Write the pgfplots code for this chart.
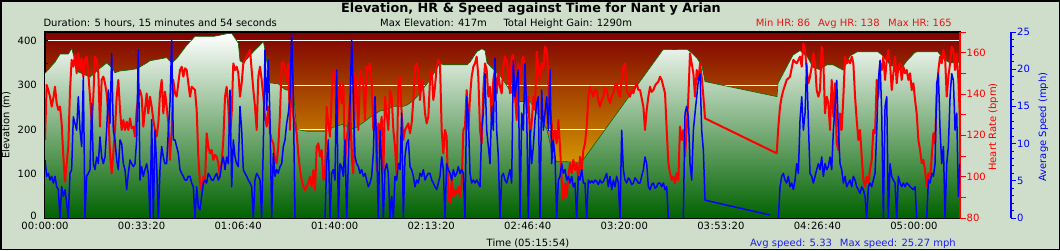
\documentclass[border=0pt]{standalone}
\usepackage{fontspec}
\setmainfont{DejaVu Sans}
\usepackage{pgfplots}
\usepackage{pgfplotstable}
\pgfplotsset{compat=1.18}
\definecolor{pagebg}{RGB}{206,222,203}
\definecolor{bgtop}{RGB}{128,0,0}
\definecolor{bgmid}{RGB}{182,74,0}
\definecolor{bgbot}{RGB}{245,212,0}
\definecolor{elevbot}{RGB}{0,98,0}
\definecolor{elevline}{RGB}{0,105,0}
\definecolor{hrred}{RGB}{255,0,0}
\definecolor{spblue}{RGB}{0,0,255}
\definecolor{txtred}{RGB}{235,20,20}
\definecolor{txtblue}{RGB}{30,30,235}
\newcommand\tf{\fontsize{10}{12}\selectfont}
\newcommand\cl{\makebox[0.45em]{:}}
\pgfplotsset{
  every axis/.append style={/pgf/number format/assume math mode=true, scaled x ticks=false, scaled y ticks=false},
  base/.style={at={(45pt,32pt)}, anchor=south west, width=915pt, height=186pt, scale only axis, xmin=0, xmax=18954},
}
\pgfplotstableread{
t e
0 327
68 335
207 352
311 370
483 370
553 383
621 355
690 330
932 318
1104 335
1278 350
1382 340
1450 328
1554 332
1726 334
1900 337
2107 350
2175 355
2521 362
2625 350
2728 360
2935 390
3107 410
3486 410
3590 412
3764 416
3868 417
4004 395
4039 355
4108 350
4315 375
4522 398
4557 380
4661 305
4833 303
4972 290
5144 285
5214 200
5421 196
5800 196
5972 205
6179 212
6318 200
6450 205
6587 215
6753 229
6940 242
7050 243
7209 252
7416 252
7500 255
7602 263
7706 274
7975 312
8182 350
8245 346
8742 346
8804 352
8949 376
9052 382
9115 378
9156 350
9450 318
9650 285
9777 265
9840 263
10047 263
10192 237
10399 199
10523 139
10606 127
10813 127
11083 126
11145 131
12802 380
13299 381
13403 372
13506 361
13610 342
13672 308
15163 274
15184 304
15329 334
15495 368
15640 378
15785 365
15909 340
16050 335
16199 346
16323 346
16531 334
16676 366
16821 375
17256 375
17339 368
17504 346
17711 334
17856 355
18022 374
18064 375
18498 375
18602 360
18747 350
18954 352
}\elev
\begin{document}
\begin{tikzpicture}[x=1pt,y=1pt]
\useasboundingbox (0,0) rectangle (1060,250);
\fill[pagebg] (0,0) rectangle (1060,250);
\draw[black, line width=1.5pt] (0.75,0.75) rectangle (1059.25,249.25);
\begin{axis}[base, ymin=0, ymax=420,
  axis background/.style={top color=bgtop, middle color=bgmid, bottom color=bgbot},
  axis line style={black, line width=1.2pt},
  xtick={0,2000,...,18000},
  xticklabels={00\cl00\cl00,00\cl33\cl20,01\cl06\cl40,01\cl40\cl00,02\cl13\cl20,02\cl46\cl40,03\cl20\cl00,03\cl53\cl20,04\cl26\cl40,05\cl00\cl00},
  minor x tick num=1,
  ytick={0,100,...,400}, minor ytick={50,150,250,350},
  yticklabels={\raisebox{3.5pt}{0},100,200,300,400},
  xtick pos=bottom, ytick pos=left, tick align=inside,
  major tick length=3pt, minor tick length=3pt,
  tick style={black, line width=0.8pt},
  tick label style={font=\tf, text=black},
  xticklabel style={anchor=north, inner sep=0pt, yshift=-3.7pt},
  yticklabel style={anchor=east, inner sep=0pt, xshift=-8pt},
  ymajorgrids, major grid style={white, line width=0.9pt},
]
\addplot[draw=none, top color=white, bottom color=elevbot] table[x=t,y=e] {\elev} \closedcycle;
\addplot[elevline, line width=0.6pt] table[x=t,y=e] {\elev};
\end{axis}
\begin{axis}[base, ymin=80, ymax=170,
  axis x line=none, axis y line*=right,
  y axis line style={hrred, line width=1.2pt},
  ytick={80,100,...,160}, minor ytick={90,110,...,170},
  tick align=outside, major tick length=6pt, minor tick length=6pt,
  ytick style={hrred, line width=0.9pt},
  yticklabel style={font=\tf, text=hrred, anchor=west, inner sep=0pt, xshift=0.5pt},
]
\addplot[hrred, line width=2pt, line join=round] coordinates {
(0,117.7) (34,144.4) (69,141.9) (104,138.7) (138,133.9) (173,137.9) (207,143.5) (242,135.5) (276,132.3) (311,133.9) (345,125.8) (380,109.7) (414,97.6) (449,106.5) (483,114.5) (518,141.9) (552,156.5) (587,153.2) (621,158.9) (656,150) (690,159.7) (725,151.6) (760,157.3) (794,148.4) (829,156.5) (863,158.1) (898,150) (932,138.7) (967,125.8) (1001,138.7) (1036,158.1) (1070,156.5) (1105,150) (1139,124.2) (1174,146.8) (1208,148.4) (1243,145.2) (1277,140.3) (1312,130.6) (1346,111.3) (1381,101.6) (1415,111.3) (1450,122.6) (1485,138.7) (1519,146.8) (1554,132.3) (1588,122.6) (1623,127.4) (1657,122.6) (1692,126.6) (1726,122.6) (1761,128.2) (1795,123.4) (1830,124.2) (1864,119.4) (1899,132.3) (1933,138.7) (1968,141.9) (2002,138.7) (2037,124.2) (2071,132.3) (2106,140.3) (2140,130.6) (2175,138.7) (2210,133.9) (2244,127.4) (2279,122.6) (2313,119.4) (2348,125.8) (2382,140.3) (2417,146.8) (2451,130.6) (2486,141.1) (2520,133.9) (2555,125.8) (2589,108.1) (2624,122.6) (2658,146.8) (2693,140.3) (2727,138.7) (2762,145.2) (2796,151.6) (2831,153.2) (2865,148.4) (2900,152.4) (2935,151.6) (2969,145.2) (3004,138.7) (3038,143.5) (3073,142.7) (3107,141.9) (3142,132.3) (3176,109.7) (3211,96.8) (3245,93.5) (3280,100) (3314,96.8) (3349,121) (3383,114.5) (3418,111.3) (3452,112.9) (3487,108.1) (3521,110.5) (3556,109.7) (3590,106.5) (3625,100) (3659,106.5) (3694,117.7) (3729,138.7) (3763,143.5) (3798,133.9) (3832,119.4) (3867,130.6) (3901,154.8) (3936,151.6) (3970,153.2) (4005,150) (4039,138.7) (4074,145.2) (4108,154.8) (4143,156.5) (4178,158.1) (4212,159.7) (4247,161.3) (4281,151.6) (4316,141.9) (4350,133.9) (4385,122.6) (4419,148.4) (4454,153.2) (4488,146.8) (4523,138.7) (4557,129) (4592,124.2) (4626,133.9) (4661,121) (4695,117.7) (4730,116.1) (4764,108.1) (4799,106.5) (4833,114.5) (4868,130.6) (4903,154.8) (4937,155.6) (4972,151.6) (5006,146.8) (5041,154.8) (5075,122.6) (5110,151.6) (5144,129) (5179,125.8) (5213,121) (5248,110.5) (5282,103.2) (5317,98.4) (5351,95.2) (5386,93.5) (5421,95.2) (5455,96.8) (5490,100) (5524,95.2) (5559,103.2) (5593,93.5) (5628,114.5) (5662,116.1) (5697,109.7) (5731,112.9) (5766,98.4) (5800,100) (5835,133.9) (5869,125.8) (5904,119.4) (5938,138.7) (5973,150) (6007,151.6) (6042,122.6) (6076,135.5) (6111,145.2) (6145,135.5) (6180,145.2) (6214,106.5) (6249,117.7) (6283,125.8)
(6318,138.7) (6353,109.7) (6387,101.6) (6422,150) (6456,141.9) (6491,122.6) (6525,151.6) (6560,148.4) (6594,145.2) (6629,127.4) (6663,153.2) (6698,151.6) (6732,154.8) (6767,145.2) (6801,122.6) (6836,137.1) (6870,103.2) (6905,125.8) (6940,121) (6974,129) (7009,101.6) (7043,138.7) (7078,130.6) (7112,122.6) (7147,141.9) (7181,138.7) (7216,122.6) (7250,114.5) (7285,100) (7319,145.2) (7354,148.4) (7388,130.6) (7423,117.7) (7457,122.6) (7492,124.2) (7526,125.8) (7561,121) (7595,125.8) (7630,137.1) (7665,153.2) (7699,154.8) (7734,150) (7768,137.1) (7803,146.8) (7837,141.9) (7872,130.6) (7906,125.8) (7941,129) (7975,146.8) (8010,151.6) (8044,137.1) (8079,143.5) (8113,153.2) (8148,156.5) (8182,154.8) (8217,122.6) (8251,111.3) (8286,122.6) (8320,119.4) (8355,90.3) (8390,87.1) (8424,98.4) (8459,90.3) (8493,93.5) (8528,91.9) (8562,95.2) (8597,90.3) (8631,96.8) (8666,122.6) (8700,124.2) (8735,141.9) (8769,122.6) (8804,138.7) (8838,148.4) (8873,153.2) (8907,154.8) (8942,158.1) (8976,148.4) (9011,122.6) (9045,116.1) (9080,141.9) (9115,154.8) (9149,151.6) (9184,138.7) (9218,143.5) (9253,127.4) (9287,146.8) (9322,151.6) (9356,140.3) (9391,150) (9425,143.5) (9460,140.3) (9494,153.2) (9529,158.1) (9563,156.5) (9598,150) (9632,140.3) (9667,158.1) (9701,158.9) (9736,138.7) (9771,127.4) (9805,154.8) (9840,145.2) (9874,154.8) (9909,158.1) (9943,151.6) (9978,130.6) (10012,138.7) (10047,119.4) (10081,125.8) (10116,138.7) (10150,132.3) (10185,160.5) (10219,153.2) (10254,146.8) (10288,154.8) (10323,151.6) (10357,162.9) (10392,161.3) (10426,150) (10461,130.6) (10496,125.8) (10530,117.7) (10565,122.6) (10599,116.1) (10634,127.4) (10668,114.5) (10703,98.4) (10737,88.7) (10772,96.8) (10806,90.3) (10841,100) (10875,106.5) (10910,101.6) (10944,108.1) (10979,103.2) (11013,106.5) (11048,98.4) (11082,109.7) (11117,103.2) (11152,112.9) (11186,116.1) (11221,124.2) (11255,138.7) (11290,143.5) (11324,141) (11359,138.7) (11393,142) (11428,141.9) (11462,137) (11497,133.9) (11531,137) (11566,138.7) (11600,143) (11635,141.9) (11669,138) (11704,135.5) (11739,139) (11773,140.3) (11808,144) (11842,145.2) (11877,141) (11911,138.7) (11946,147) (11980,153.2) (12015,154.8) (12049,141.9) (12084,140) (12118,138.7) (12153,142) (12187,140.3) (12222,143) (12256,145.2) (12291,142) (12326,141.9) (12360,138) (12395,133.9) (12429,122.6) (12464,132.3) (12498,138.7) (12533,143.5) (12567,141) (12602,141.9) (12636,144) (12671,145.2) (12705,146)
(12740,148.4) (12775,146.8) (12809,143.5) (12844,140.3) (12878,122.6) (12913,106.5) (12947,101.6) (12982,98.4) (13016,100) (13051,96.8) (13085,101.6) (13120,98.4) (13154,124.2) (13189,117.7) (13223,122.6) (13258,109.7) (13292,122.6) (13327,138.7) (13361,159.7) (13396,154.8) (13431,150) (13465,138.7) (13500,151.6) (13534,146.8) (13569,154.8) (13603,148.4) (13638,138.7) (13672,128.2) (15157,111.3) (15191,124.2) (15226,133.9) (15260,138.7) (15295,141.9) (15364,146.8) (15433,148.4) (15502,156.5) (15571,154.8) (15640,158.1) (15675,153.2) (15709,164.5) (15744,161.3) (15778,151.6) (15813,145.2) (15847,148.4) (15882,153.2) (15916,159.7) (15951,154.8) (15985,141.9) (16020,138.7) (16054,141.9) (16089,162.9) (16124,154.8) (16158,130.6) (16193,138.7) (16227,135.5) (16262,122.6) (16296,146.8) (16331,129) (16365,145.2) (16400,116.1) (16434,112.9) (16469,130.6) (16503,122.6) (16538,138.7) (16572,158.1) (16607,154.8) (16642,156.5) (16676,154.8) (16711,158.1) (16745,154.8) (16780,138.7) (16814,127.4) (16849,117.7) (16883,122.6) (16918,109.7) (16952,98.4) (16987,95.2) (17021,100) (17056,96.8) (17090,103.2) (17125,108.1) (17159,122.6) (17194,121) (17229,146.8) (17263,138.7) (17298,154.8) (17332,151.6) (17367,158.1) (17401,146.8) (17436,156.5) (17470,161.3) (17505,154.8) (17539,141.9) (17574,150) (17608,158.1) (17643,145.2) (17677,153.2) (17712,154.8) (17746,146.8) (17781,153.2) (17816,150) (17850,151.6) (17885,146.8) (17919,150) (17954,141.9) (17988,145.2) (18023,137.1) (18057,130.6) (18092,117.7) (18126,112.9) (18161,106.5) (18195,108.1) (18230,103.2) (18264,95.2) (18299,101.6) (18333,98.4) (18368,109.7) (18403,121) (18437,116.1) (18472,138.7) (18506,151.6) (18541,158.1) (18575,154.8) (18610,161.3) (18644,158.1) (18679,138.7) (18713,148.4) (18748,154.8) (18782,162.9) (18817,161.3) (18851,151.6) (18886,159.7) (18920,146.8) (18954,127)
};
\end{axis}
\begin{axis}[base, ymin=0, ymax=25, hide axis, unbounded coords=jump]
\addplot[spblue, line width=1.5pt, line join=round] coordinates {
(0,7.8) (34,5.6) (69,6) (104,5.1) (138,5.6) (173,4.7) (207,5.6) (242,4.2) (276,3.8) (311,0) (345,4.2) (380,2.9) (414,3.8) (449,2) (483,0) (518,6) (552,6.5) (587,13.6) (621,12.7) (656,11.8) (690,16.3) (725,11.8) (760,9.6) (794,19) (829,0) (863,5.6) (898,6) (932,6.5) (967,15.4) (1001,7.3) (1036,6.5) (1070,8.2) (1105,7.3) (1139,10.9) (1174,8.2) (1208,7.3) (1243,8.2) (1277,11.8) (1312,17.2) (1346,12.7) (1381,22.1) (1415,11.8) (1450,10.5) (1485,7.8) (1519,6.5) (1554,10.5) (1588,10) (1623,7.3) (1657,6.5) (1692,3.8) (1726,6) (1761,7.8) (1795,7.3) (1830,6.9) (1864,7.3) (1899,10.5) (1933,22.6) (1968,5.1) (2002,6.9) (2037,5.6) (2071,6.5) (2106,7.3) (2140,6) (2175,0) (2210,13.2) (2244,0) (2279,11.8) (2313,6.9) (2348,0) (2382,6.5) (2417,9.6) (2451,8.2) (2486,7.3) (2520,7.3) (2555,11.8) (2589,15.4) (2624,23.9) (2658,10.5) (2693,10.5) (2727,9.6) (2762,8.7) (2796,6.5) (2831,6) (2865,5.6) (2900,5.1) (2935,5.1) (2969,5.6) (3004,5.6) (3038,4.7) (3073,4.2) (3107,0) (3142,4.2) (3176,1.5) (3211,1.1) (3245,2.9) (3280,4.7) (3314,5.1) (3349,4.7) (3383,6) (3418,5.6) (3452,5.1) (3487,5.1) (3521,5.6) (3556,6) (3590,5.1) (3625,5.6) (3659,7.3) (3694,8.2) (3729,6.5) (3763,8.2) (3798,7.3) (3832,17.2) (3867,4.2) (3901,10.5) (3936,8.2) (3970,7.3) (4005,6.9) (4039,15) (4074,11.8) (4108,6.5) (4143,6) (4178,5.6) (4212,5.1) (4247,4.7) (4281,4.2) (4316,0) (4350,5.1) (4385,6) (4419,5.6) (4454,5.1) (4488,0) (4523,10) (4557,22.6) (4592,14.5) (4626,21.2) (4661,13.2) (4695,0) (4730,8.7) (4764,5.6) (4799,6.5) (4833,6) (4868,6.9) (4903,7.3) (4937,9.6) (4972,10.5) (5006,12.7) (5041,14.1) (5075,16.3) (5110,24.8) (5144,16.3) (5179,0) (5213,nan) (5800,0) (5835,7.3) (5869,10.5) (5904,0) (5938,6) (5973,6.5) (6007,5.1) (6042,19.9) (6076,0) (6111,7.3) (6145,6.9) (6180,5.6) (6214,10.5) (6249,0) (6283,7.3)
(6318,15.4) (6353,23.9) (6387,16.3) (6422,8.2) (6456,7.3) (6491,6.9) (6525,6) (6560,6.5) (6594,5.6) (6629,6) (6663,5.1) (6698,4.2) (6732,4.7) (6767,5.6) (6801,8.7) (6836,16.3) (6870,9.6) (6905,0) (6940,11.8) (6974,7.3) (7009,0) (7043,6.5) (7078,7.3) (7112,6) (7147,0) (7181,2.9) (7216,0) (7250,5.6) (7285,5.1) (7319,7.3) (7354,6.5) (7388,14.1) (7423,0) (7457,8.2) (7492,10) (7526,10.5) (7561,6.9) (7595,6.5) (7630,5.6) (7665,4.2) (7699,5.1) (7734,4.7) (7768,6) (7803,5.6) (7837,6.5) (7872,5.1) (7906,5.6) (7941,6) (7975,6) (8010,5.1) (8044,4.7) (8079,4.2) (8113,3.8) (8148,4.7) (8182,5.6) (8217,8.2) (8251,6.5) (8286,0) (8320,7.3) (8355,6.5) (8390,6) (8424,5.1) (8459,6.5) (8493,5.6) (8528,6) (8562,6.9) (8597,6) (8631,6.5) (8666,6) (8700,0) (8735,16.3) (8769,13.6) (8804,6) (8838,4.7) (8873,5.1) (8907,4.7) (8942,5.1) (8976,4.7) (9011,4.2) (9045,11.8) (9080,14.1) (9115,19.4) (9149,11.8) (9184,9.6) (9218,7.3) (9253,15) (9287,11.8) (9322,21.5) (9356,11.8) (9391,8.2) (9425,0) (9460,5.6) (9494,6) (9529,5.1) (9563,4.7) (9598,5.6) (9632,6.5) (9667,4.7) (9701,21.2) (9736,16.3) (9771,18.5) (9805,19.9) (9840,0) (9874,14.1) (9909,11.8) (9943,20.8) (9978,14.1) (10012,0) (10047,11.8) (10081,7.3) (10116,9.6) (10150,13.2) (10185,15.4) (10219,16.3) (10254,0) (10288,17.2) (10323,11.8) (10357,14.1) (10392,16.3) (10426,11.8) (10461,19.9) (10496,7.3) (10530,10.5) (10565,8.2) (10599,0) (10634,5.1) (10668,5.6) (10703,7.3) (10737,6) (10772,6.5) (10806,5.1) (10841,5.6) (10875,4.7) (10910,5.6) (10944,4.2) (10979,4.7) (11013,0) (11048,5.6) (11082,5.1) (11117,6.5) (11152,4.7) (11186,4.7) (11221,0) (11255,5.1) (11290,4.7) (11324,5) (11359,4.7) (11393,5.1) (11428,4.9) (11462,4.5) (11497,5.1) (11531,4.7) (11566,4.9) (11600,5.4) (11635,6) (11669,4.2) (11704,5.6) (11739,3.8) (11773,5.1) (11808,4.2) (11842,5.6) (11877,4.7) (11911,0) (11946,11.8) (11980,6.5) (12015,5.1) (12049,4.7) (12084,5.4) (12118,5.1) (12153,4.5) (12187,4.7) (12222,5.4) (12256,5.1) (12291,4.7) (12326,4.7) (12360,5.6) (12395,6.5) (12429,8.2) (12464,7.3) (12498,4.2) (12533,3.8) (12567,4.5) (12602,4.7) (12636,4) (12671,4.2) (12705,4.7)
(12740,4.7) (12775,4.2) (12809,4.7) (12844,3.8) (12878,4.2) (12913,0) (12947,nan) (13223,0) (13258,14.1) (13292,15) (13327,13.6) (13361,7.3) (13396,5.1) (13431,11.8) (13465,14.1) (13500,16.3) (13534,18.5) (13569,19.4) (13603,11.8) (13638,9.1) (13672,2.4) (15019,0.4) (15100,nan) (15191,0) (15226,4.2) (15260,5.6) (15295,6) (15329,5.1) (15364,4.7) (15398,5.6) (15433,4.2) (15467,4.7) (15502,3.8) (15537,5.1) (15571,7.3) (15606,6) (15640,13.2) (15675,16.3) (15709,11.8) (15744,14.1) (15778,20.8) (15813,12.7) (15847,6) (15882,5.6) (15916,4.7) (15951,5.6) (15985,6.5) (16020,7.3) (16054,6.5) (16089,8.2) (16124,5.6) (16158,7.3) (16193,6.5) (16227,6.9) (16262,8.2) (16296,6.5) (16331,11.8) (16365,15) (16400,18.5) (16434,11.8) (16469,7.3) (16503,6.5) (16538,4.7) (16572,5.6) (16607,4.2) (16642,4.7) (16676,5.1) (16711,4.2) (16745,5.6) (16780,5.1) (16814,4.2) (16849,3.8) (16883,3.3) (16918,4.2) (16952,3.8) (16987,2.9) (17021,0) (17056,4.2) (17090,4.7) (17125,4.2) (17159,5.1) (17194,6) (17229,11.8) (17263,18.5) (17298,21.2) (17332,14.1) (17367,0) (17401,15) (17436,16.3) (17470,0) (17505,7.3) (17539,5.6) (17574,5.1) (17608,4.7) (17643,0) (17677,5.6) (17712,4.7) (17746,4.2) (17781,4.7) (17816,4.2) (17850,4.7) (17885,4.5) (17919,4.2) (17954,4) (17988,3.8) (18023,4.2) (18057,0) (18100,nan) (18264,0) (18299,5.1) (18333,4.7) (18368,6) (18403,5.6) (18437,7.3) (18472,18.1) (18506,19.4) (18541,11.8) (18575,7.3) (18610,9.6) (18644,0) (18679,7.3) (18713,9.6) (18748,16.3) (18782,19.4) (18817,18.5) (18851,11.8) (18886,14.1) (18920,2.9) (18954,7.3)
};
\end{axis}
\begin{axis}[at={(1010pt,32pt)}, anchor=south west, width=1pt, height=186pt, scale only axis,
  xmin=0, xmax=1, ymin=0, ymax=25,
  axis x line=none, axis y line*=right,
  y axis line style={spblue, line width=1.2pt},
  ytick={0,5,...,25}, minor ytick={0,1,...,25},
  tick align=outside, major tick length=5pt, minor tick length=2.5pt,
  ytick style={spblue, line width=0.9pt},
  yticklabel style={font=\tf, text=spblue, anchor=west, inner sep=0pt, xshift=1pt},
]
\addplot[draw=none] coordinates {(0,0)};
\end{axis}
\node[font=\fontsize{12.8}{15}\selectfont\bfseries, anchor=base, inner sep=0pt] at (531,237.3) {Elevation, HR \& Speed against Time for Nant y Arian};
\node[font=\tf, anchor=base west, inner sep=0pt] at (43.3,223.5) {Duration: 5 hours, 15 minutes and 54 seconds};
\node[font=\tf, anchor=base west, inner sep=0pt] at (380,223.5) {Max Elevation: 417m};
\node[font=\tf, anchor=base west, inner sep=0pt] at (503.3,223.5) {Total Height Gain: 1290m};
\node[font=\tf, anchor=base east, inner sep=0pt, text=txtred] at (952,224) {Min HR: 86\hspace{8pt}Avg HR: 138\hspace{8.5pt}Max HR: 165};
\node[font=\tf, anchor=base, inner sep=0pt] at (528,4) {Time (05\cl15\cl54)};
\node[font=\tf, anchor=base west, inner sep=0pt, text=txtblue] at (750,4) {Avg speed: 5.33};
\node[font=\tf, anchor=base east, inner sep=0pt, text=txtblue] at (956,4) {Max speed: 25.27 mph};
\node[font=\tf, rotate=90, anchor=base, inner sep=0pt] at (9.3,125) {Elevation (m)};
\node[font=\tf, rotate=90, anchor=base, inner sep=0pt, text=hrred] at (996,123) {Heart Rate (bpm)};
\node[font=\tf, rotate=90, anchor=base, inner sep=0pt, text=spblue] at (1046,123) {Average Speed (mph)};
\end{tikzpicture}
\end{document}
